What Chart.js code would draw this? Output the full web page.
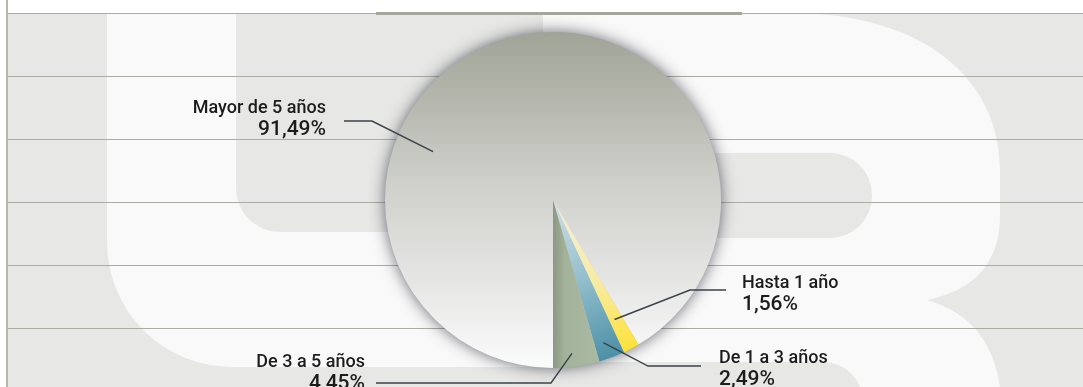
<!DOCTYPE html>
<html>
<head>
<meta charset="utf-8">
<script src="https://cdn.jsdelivr.net/npm/chart.js@4.4.1/dist/chart.umd.min.js"></script>
<style>
  html, body { margin: 0; padding: 0; background: #fff; }
  #wrap { width: 1083px; height: 387px; overflow: hidden; }
</style>
</head>
<body>
<div id="wrap"><canvas id="pieChart" width="1083" height="387"></canvas></div>
<script>
// data
var labels = ['Mayor de 5 años', 'Hasta 1 año', 'De 1 a 3 años', 'De 3 a 5 años'];
var values = [91.49, 1.56, 2.49, 4.45];
var valueText = ['91,49%', '1,56%', '2,49%', '4,45%'];

// label layout: where the leader touches the slice (t along the arc, radius fraction),
// the elbow, the line end and where the text goes
var callouts = [
    { t: 0.34, rf: 0.77, elbow: [372, 121], end: [344, 121], tx: 326, ty: 113, align: 'right' },
    { t: 0.60, rf: 0.80, elbow: [690, 290], end: [726, 290], tx: 742, ty: 288, align: 'left' },
    { t: 0.62, rf: 0.90, elbow: [648, 366], end: [701, 366], tx: 719, ty: 363, align: 'left' },
    { t: 0.56, rf: 0.92, elbow: [551, 383], end: [376, 383], tx: 365, ty: 367, align: 'right' }
];

var W = 1083, H = 387;

function pieGeom(chart) {
    var a = chart.chartArea;
    return {
        cx: (a.left + a.right) / 2,
        cy: (a.top + a.bottom) / 2,
        r: Math.min(a.right - a.left, a.bottom - a.top) / 2
    };
}

function sliceFill(c) {
    var chart = c.chart;
    if (!chart.chartArea) return '#c8cac4';
    var p = pieGeom(chart), ctx = chart.ctx, g;
    if (c.dataIndex === 0) {
        g = ctx.createLinearGradient(0, p.cy - p.r, 0, p.cy + p.r);
        g.addColorStop(0, '#a0a396');
        g.addColorStop(0.45, '#cfd0cb');
        g.addColorStop(1, '#fafbfb');
    } else if (c.dataIndex === 1) {
        g = ctx.createRadialGradient(p.cx, p.cy, 0, p.cx, p.cy, p.r);
        g.addColorStop(0, '#f2f0e2');
        g.addColorStop(0.55, '#f8eba5');
        g.addColorStop(1, '#fde23a');
    } else if (c.dataIndex === 2) {
        g = ctx.createRadialGradient(p.cx, p.cy, 0, p.cx, p.cy, p.r);
        g.addColorStop(0, '#d3e0e6');
        g.addColorStop(0.5, '#93bfcd');
        g.addColorStop(1, '#4c90a6');
    } else {
        g = ctx.createLinearGradient(p.cx, 0, p.cx + 40, 0);
        g.addColorStop(0, '#8b9883');
        g.addColorStop(0.3, '#a3b29a');
        g.addColorStop(1, '#a9b8a0');
    }
    return g;
}

var backdrop = {
    id: 'backdrop',
    beforeDraw: function(chart) {
        var ctx = chart.ctx;
        ctx.save();
        ctx.fillStyle = '#ffffff';
        ctx.fillRect(0, 0, W, H);
        ctx.fillStyle = '#e7e8e5';
        ctx.fillRect(7, 13, W, H);

        ctx.fillStyle = '#f9f9f9';
        // big L
        ctx.beginPath();
        ctx.moveTo(107, 13);
        ctx.lineTo(236, 13);
        ctx.lineTo(236, 188);
        ctx.arcTo(236, 232, 280, 232, 44);
        ctx.lineTo(560, 232);
        ctx.lineTo(560, 367);
        ctx.lineTo(232, 367);
        ctx.arc(232, 242, 125, Math.PI / 2, Math.PI);
        ctx.closePath();
        ctx.fill();
        // big R
        ctx.beginPath();
        ctx.moveTo(543, 13);
        ctx.lineTo(790, 13);
        ctx.bezierCurveTo(925, 13, 1000, 80, 1000, 170);
        ctx.lineTo(1000, 215);
        ctx.quadraticCurveTo(1000, 285, 927, 300);
        ctx.quadraticCurveTo(990, 318, 1000, 387);
        ctx.lineTo(543, 387);
        ctx.closePath();
        ctx.fill();
        // counters of the R
        ctx.fillStyle = '#e7e8e5';
        ctx.beginPath();
        ctx.roundRect(620, 153, 252, 85, [0, 42, 42, 0]);
        ctx.fill();
        ctx.beginPath();
        ctx.roundRect(540, 362, 323, 40, [0, 40, 0, 0]);
        ctx.fill();
        ctx.fillRect(7, 367, 533, 20);

        // rules
        ctx.strokeStyle = '#abada2';
        ctx.lineWidth = 1.2;
        [13, 76, 139, 202, 265, 328].forEach(function(y) {
            ctx.beginPath();
            ctx.moveTo(7, y + 0.5);
            ctx.lineTo(W, y + 0.5);
            ctx.stroke();
        });
        ctx.fillStyle = '#b6b8ae';
        ctx.fillRect(6, 0, 2, H);
        ctx.fillStyle = '#a4a69a';
        ctx.fillRect(376, 12, 366, 3);
        ctx.restore();
    },
    beforeDatasetsDraw: function(chart) {
        var ctx = chart.ctx, p = pieGeom(chart);
        ctx.save();
        ctx.shadowColor = 'rgba(55, 55, 70, 0.85)';
        ctx.shadowBlur = 16;
        ctx.fillStyle = '#c4c6bf';
        ctx.beginPath();
        ctx.arc(p.cx, p.cy, p.r - 1, 0, Math.PI * 2);
        ctx.fill();
        ctx.restore();
    }
};

var callout = {
    id: 'callout',
    afterDatasetsDraw: function(chart) {
        var ctx = chart.ctx;
        var arcs = chart.getDatasetMeta(0).data;
        ctx.save();
        arcs.forEach(function(arc, i) {
            var c = callouts[i];
            var ang = arc.startAngle + (arc.endAngle - arc.startAngle) * c.t;
            var ax = arc.x + Math.cos(ang) * arc.outerRadius * c.rf;
            var ay = arc.y + Math.sin(ang) * arc.outerRadius * c.rf;
            ctx.strokeStyle = '#3b4149';
            ctx.lineWidth = 1.4;
            ctx.beginPath();
            ctx.moveTo(ax, ay);
            ctx.lineTo(c.elbow[0], c.elbow[1]);
            ctx.lineTo(c.end[0], c.end[1]);
            ctx.stroke();

            ctx.fillStyle = '#1c1c1c';
            ctx.textAlign = c.align;
            ctx.textBaseline = 'alphabetic';
            ctx.font = '500 18px Roboto';
            ctx.fillText(labels[i], c.tx, c.ty);
            ctx.font = '500 21px Roboto';
            ctx.fillText(valueText[i], c.tx, c.ty + 22);
        });
        ctx.restore();
    }
};

new Chart(document.getElementById('pieChart'), {
    type: 'pie',
    data: {
        labels: labels,
        datasets: [{
            data: values,
            backgroundColor: sliceFill,
            borderWidth: 0
        }]
    },
    options: {
        responsive: false,
        animation: false,
        rotation: 180,
        layout: { padding: { left: 23, right: 0, top: 32, bottom: 19 } },
        plugins: {
            legend: { display: false },
            tooltip: { enabled: false }
        }
    },
    plugins: [backdrop, callout]
});
</script>
</body>
</html>
